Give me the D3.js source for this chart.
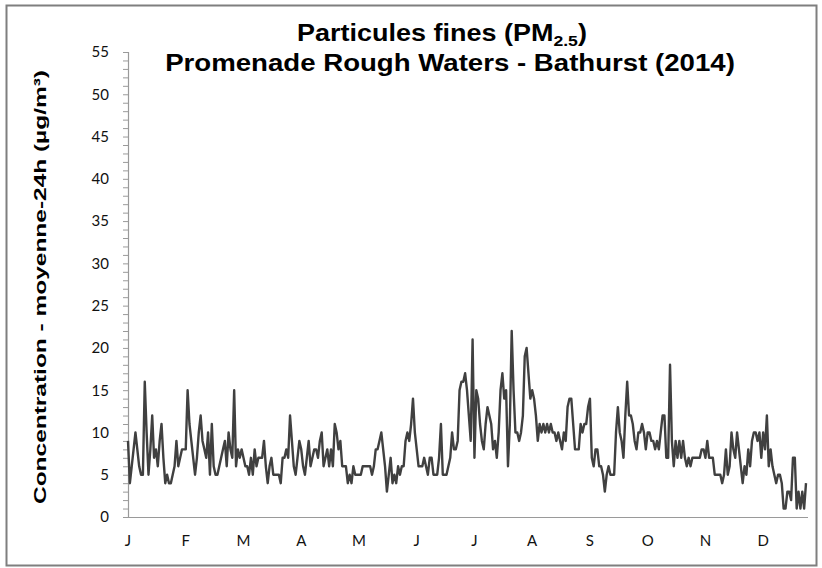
<!DOCTYPE html>
<html>
<head>
<meta charset="utf-8">
<script src="https://cdn.jsdelivr.net/npm/d3@7"></script>
<style>
  html, body { margin: 0; padding: 0; background: #fff; }
  svg { display: block; }
</style>
</head>
<body>
<svg id="chart" width="822" height="568"></svg>
<script>
// ---- Data (daily 24h-average PM2.5, µg/m³, 2014) ----
const jan = [9,4,6,8,10,8,6,5,5,16,10,5,8,12,7,8,6,9,11,7,4,5,4,4,5,6,9,6,7,8,8];
const feb = [8,15,11,9,7,5,7,10,12,9,8,7,10,5,11,6,5,5,6,7,8,9,6,10,8,7,15,6];
const mar = [8,7,8,7,6,6,5,7,5,8,6,7,7,7,9,6,4,6,7,5,5,5,5,4,7,7,8,7,12,9,6];
const apr = [5,7,9,8,6,5,7,9,6,7,8,8,7,9,10,6,7,8,6,8,6,11,10,8,9,6,6,6,4,5];
const may = [4,6,5,5,5,5,6,6,6,6,6,5,6,8,8,9,10,8,6,3,5,7,4,5,4,6,5,6,6,9,10];
const jun = [9,11,14,10,8,6,6,6,7,6,5,7,7,5,5,5,7,11,5,5,5,6,7,10,8,8,9,15,16,16];
const jul = [17,15,12,9,21,7,15,14,11,9,8,11,13,12,11,8,9,7,10,15,17,14,15,6,11,22,15,10,10,9,10];
const aug = [12,19,20,17,14,15,14,12,9,11,10,11,10,11,10,11,10,10,9,10,9,8,10,9,13,14,14,11,8,8,8];
const sep = [11,10,11,11,13,14,7,6,8,8,6,6,5,3,5,6,5,5,5,10,13,10,9,7,12,16,12,12,11,9];
const oct = [8,10,10,11,10,8,10,10,9,9,8,9,8,10,12,12,7,7,18,9,6,9,7,9,7,9,7,6,7,6,7];
const nov = [7,7,7,7,8,8,7,9,7,7,7,5,5,5,5,4,5,8,5,6,10,8,7,10,8,6,4,6,5,8];
const dec = [6,9,10,10,9,10,7,10,8,12,6,8,6,5,4,5,5,4,1,1,3,3,2,7,7,1,3,1,3,1,4];

const monthLabels = ["J","F","M","A","M","J","J","A","S","O","N","D"];
const yTicks = [0,5,10,15,20,25,30,35,40,45,50,55];
const titleLine1 = "Particules fines (PM";
const titleSub = "2.5";
const titleLine1End = ")";
const titleLine2 = "Promenade Rough Waters - Bathurst (2014)";
const yTitle = "Concentration - moyenne-24h (µg/m³)";

const values = [].concat(jan,feb,mar,apr,may,jun,jul,aug,sep,oct,nov,dec);

// ---- Layout ----
const svg = d3.select("#chart");
const plot = { left: 128, right: 806, top: 52, bottom: 517, axisEnd: 808 };

svg.append("rect")
  .attr("x", 6.5).attr("y", 5.5)
  .attr("width", 810).attr("height", 560)
  .attr("fill", "#fff").attr("stroke", "#7f7f7f").attr("stroke-width", 2);

const x = d3.scaleLinear().domain([0, values.length - 1]).range([plot.left, plot.right]);
const y = d3.scaleLinear().domain([0, 55]).range([plot.bottom, plot.top]);

// Y axis with minor ticks
const yMinor = d3.range(0, 56, 1);
const yAxisG = svg.append("g").attr("transform", `translate(${plot.left},0)`);
yAxisG.call(d3.axisLeft(y).tickValues(yMinor).tickSize(5).tickFormat(""));
yAxisG.selectAll("line").attr("stroke", "#9a9a9a").attr("stroke-width", 1);
yAxisG.select(".domain").attr("stroke", "#9a9a9a").attr("stroke-width", 1.2)
  .attr("d", `M-5,${y(55)+0.5}H0.5V${y(0)}`);

svg.append("g").selectAll("text").data(yTicks).join("text")
  .attr("x", 109).attr("y", d => y(d))
  .attr("dy", "0.36em")
  .attr("text-anchor", "end")
  .attr("font-family", "Lato, 'Open Sans', sans-serif")
  .attr("font-size", 15)
  .attr("fill", "#111")
  .text(d => d);

// X axis line
svg.append("line")
  .attr("x1", plot.left).attr("x2", plot.axisEnd)
  .attr("y1", plot.bottom + 0.5).attr("y2", plot.bottom + 0.5)
  .attr("stroke", "#9a9a9a").attr("stroke-width", 1.2);

// Month labels (every 31 days, as in the source)
svg.append("g").selectAll("text").data(monthLabels).join("text")
  .attr("x", (d, i) => x(i * 31))
  .attr("y", 546)
  .attr("text-anchor", "middle")
  .attr("font-family", "Lato, 'Open Sans', sans-serif")
  .attr("font-size", 15)
  .attr("fill", "#111")
  .text(d => d);

// Line
const line = d3.line().x((d, i) => x(i)).y(d => y(d));
svg.append("path")
  .datum(values)
  .attr("d", line)
  .attr("fill", "none")
  .attr("stroke", "#404040")
  .attr("stroke-width", 2.4)
  .attr("stroke-linejoin", "round");

// Title (horizontally condensed like the source)
function fitWidth(g, textSel, cx, targetW) {
  const w = textSel.node().getBBox().width;
  const s = targetW / w;
  g.attr("transform", `translate(${cx},0) scale(${s},1)`);
}
const g1 = svg.append("g");
const t1 = g1.append("text")
  .attr("x", 0).attr("y", 41)
  .attr("text-anchor", "middle")
  .attr("font-family", "'Liberation Sans', Arial, sans-serif")
  .attr("font-weight", "bold")
  .attr("font-size", 23)
  .attr("fill", "#000");
t1.append("tspan").text(titleLine1);
t1.append("tspan").attr("font-size", 15).attr("dy", 5).text(titleSub);
t1.append("tspan").attr("dy", -5).text(titleLine1End);
fitWidth(g1, t1, 442, 290);

const g2 = svg.append("g");
const t2 = g2.append("text")
  .attr("x", 0).attr("y", 71)
  .attr("text-anchor", "middle")
  .attr("font-family", "'Liberation Sans', Arial, sans-serif")
  .attr("font-weight", "bold")
  .attr("font-size", 23)
  .attr("fill", "#000")
  .text(titleLine2);
fitWidth(g2, t2, 450, 570);

// Y axis title
svg.append("text")
  .attr("transform", "translate(46,287) rotate(-90)")
  .attr("text-anchor", "middle")
  .attr("font-family", "'Liberation Sans', Arial, sans-serif")
  .attr("font-weight", "bold")
  .attr("font-size", 17)
  .attr("textLength", 434)
  .attr("lengthAdjust", "spacingAndGlyphs")
  .attr("fill", "#000")
  .text(yTitle);
</script>
</body>
</html>
